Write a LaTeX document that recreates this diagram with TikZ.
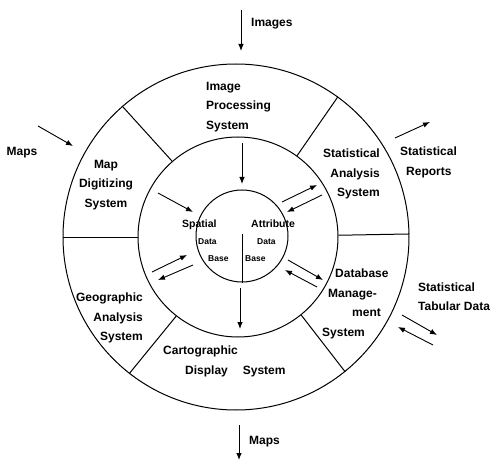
\documentclass[tikz,border=0pt]{standalone}
\usepackage{fontspec}
\setmainfont{Liberation Sans}
\usetikzlibrary{arrows.meta}

\begin{document}
\begin{tikzpicture}[x=1pt,y=-1pt]
	\tikzset{
	%Define standard arrow tip
	>={Latex[length=7pt,width=5.5pt]},
	%Define style for the rings
	ring/.style={
		circle,
		draw=black, line width=1pt,
		inner sep=0pt},
	% Define arrow style
	pil/.style={
		->,
		line width=0.9pt},
	%Define style for labels
	lbl/.style={
		font=\bfseries\fontsize{12}{19.5}\selectfont,
		inner sep=0pt},
	dblbl/.style={
		font=\bfseries\fontsize{8.5}{17}\selectfont,
		inner sep=0pt,
		align=left}
}
	\useasboundingbox (0,0) rectangle (499,460);

	%rings
	\node[ring,minimum size=346pt] at (236,237) (outer) {};
	\node[ring,minimum size=200pt] at (238,237) (middle) {};
	\node[ring,minimum size=92pt] at (242,236) (inner) {};
	\foreach \a in {131,54,1,180,232,309} {
		\draw[line width=1pt] (outer.\a) -- (middle.\a);
	}
	\coordinate (split) at (242,234);
	\draw[line width=0.8pt] (split) -- (inner.south);

	%arrow ends
	\coordinate (img1) at (241,10);   \coordinate (img2) at (241,51);
	\coordinate (mapin1) at (38,126); \coordinate (mapin2) at (73,146);
	\coordinate (rep1) at (395,138);  \coordinate (rep2) at (430,122);
	\coordinate (tab1) at (402,315);  \coordinate (tab2) at (437,335);
	\coordinate (tab3) at (433,345);  \coordinate (tab4) at (398,327);
	\coordinate (mapout1) at (239,425); \coordinate (mapout2) at (239,460);
	\coordinate (ip1) at (242,143);   \coordinate (ip2) at (242,184);
	\coordinate (cd1) at (240,288);   \coordinate (cd2) at (240,329);
	\coordinate (md1) at (158,193);   \coordinate (md2) at (193,212);
	\coordinate (sa1) at (282,202);   \coordinate (sa2) at (317,185);
	\coordinate (sa3) at (322,195);   \coordinate (sa4) at (287,212);
	\coordinate (ga1) at (152,272);   \coordinate (ga2) at (187,255);
	\coordinate (ga3) at (193,265);   \coordinate (ga4) at (158,280);
	\coordinate (dm1) at (288,260);   \coordinate (dm2) at (323,280);
	\coordinate (dm3) at (317,287);   \coordinate (dm4) at (285,270);

	\begin{scope}[every node/.style={lbl}]
	%outside
	\node[anchor=west] at (251,24) (images) {Images};
	\node at (22,153) (mapsin) {Maps};
	\node[align=left,anchor=west] at (400,162.5) (reports) {Statistical\\\hspace*{6pt}Reports};
	\node[align=left,anchor=west] at (418,296.5) (tabular) {Statistical\\Tabular Data};
	\node[anchor=west] at (249,442) (mapsout) {Maps};
	%ring
	\node[align=left,anchor=west] at (206,107) (imgproc) {Image\\Processing\\System};
	\node[align=center] at (106,185) (mapdig) {Map\\Digitizing\\System};
	\node[align=right,anchor=east] at (380,174) (statan) {Statistical\\Analysis\\System};
	\node[align=right,anchor=east] at (143,318) (geoan) {Geographic\\Analysis\\System};
	\node[align=left,anchor=west] at (322,304) (dbms) {\hspace*{13pt}Database\\\hspace*{6pt}Manage-\\\hspace*{30pt}ment\\System};
	\node[align=left,anchor=west] at (163,361.5) (carto) {Cartographic\\\hspace*{22pt}Display\hspace{15pt}System};
	\end{scope}

	%data bases
	\node[dblbl,anchor=west] at (182,241) (spatial) {{\fontsize{10.5}{17}\selectfont Spatial}\\\hspace*{16pt}Data\\\hspace*{26pt}Base};
	\node[dblbl,anchor=west] at (245,241) (attrib) {\hspace*{6pt}{\fontsize{10.5}{17}\selectfont Attribute}\\\hspace*{12pt}Data\\Base};

	%inputs and outputs
	\draw[pil] (img1) -- (img2);
	\draw[pil] (mapin1) -- (mapin2);
	\draw[pil] (rep1) -- (rep2);
	\draw[pil] (tab1) -- (tab2);
	\draw[pil] (tab3) -- (tab4);
	\draw[pil] (mapout1) -- (mapout2);
	%to and from the data base
	\draw[pil] (ip1) -- (ip2);
	\draw[pil] (cd1) -- (cd2);
	\draw[pil] (md1) -- (md2);
	\draw[pil] (sa1) -- (sa2);
	\draw[pil] (sa3) -- (sa4);
	\draw[pil] (ga1) -- (ga2);
	\draw[pil] (ga3) -- (ga4);
	\draw[pil] (dm1) -- (dm2);
	\draw[pil] (dm3) -- (dm4);

\end{tikzpicture}
\end{document}
